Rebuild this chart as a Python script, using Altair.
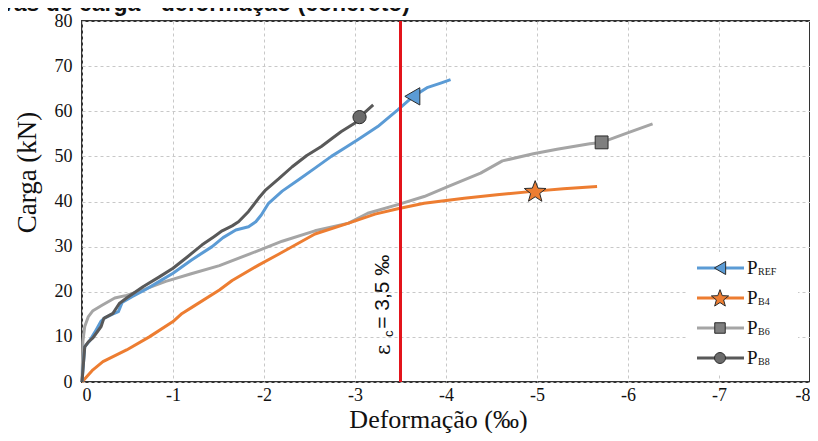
import math
import altair as alt
import pandas as pd

# ---------------- data ----------------
series_names = ["PREF", "PB4", "PB6", "PB8"]

pref_x = [0, -0.03, -0.08, -0.14, -0.21, -0.25, -0.33, -0.40, -0.44, -0.55, -0.70, -0.85, -1.00, -1.20,
          -1.43, -1.55, -1.69, -1.83, -1.91, -1.97, -2.05, -2.20, -2.38, -2.56, -2.74, -2.90, -3.03,
          -3.25, -3.47, -3.64, -3.80, -3.95, -4.05]
pref_y = [0, 7.8, 9.0, 11.0, 13.5, 14.2, 15.0, 15.6, 17.6, 18.9, 20.5, 22.3, 24.1, 27.0,
          30.0, 32.0, 33.7, 34.4, 35.5, 37.0, 39.6, 42.3, 44.8, 47.4, 50.0, 52.0, 53.7,
          56.6, 60.3, 63.3, 65.3, 66.3, 67.0]

pb4_x = [0, -0.12, -0.23, -0.49, -0.74, -1.00, -1.10, -1.22, -1.51, -1.65, -1.94, -2.16, -2.56,
         -2.93, -3.22, -3.47, -3.76, -4.20, -4.56, -4.98, -5.29, -5.66]
pb4_y = [0, 2.7, 4.5, 7.1, 10.0, 13.4, 15.2, 16.7, 20.4, 22.5, 25.9, 28.3, 32.8,
         35.2, 37.2, 38.4, 39.6, 40.7, 41.5, 42.3, 42.8, 43.3]

pb6_x = [0, -0.01, -0.03, -0.07, -0.12, -0.22, -0.36, -0.49, -0.67, -0.92, -1.20, -1.51, -1.91,
         -2.20, -2.56, -2.93, -3.14, -3.47, -3.76, -4.02, -4.38, -4.62, -4.96, -5.22, -5.58,
         -5.71, -5.98, -6.27]
pb6_y = [0, 9.0, 12.3, 14.5, 15.8, 17.0, 18.6, 19.2, 20.4, 22.3, 24.0, 25.8, 28.9,
         31.2, 33.5, 35.2, 37.4, 39.3, 41.1, 43.3, 46.3, 49.0, 50.6, 51.6, 52.8,
         53.1, 55.1, 57.2]

pb8_x = [0, -0.03, -0.07, -0.12, -0.21, -0.24, -0.34, -0.41, -0.49, -0.67, -0.85, -1.00, -1.15,
         -1.32, -1.45, -1.54, -1.65, -1.72, -1.83, -1.94, -2.02, -2.16, -2.31, -2.47, -2.63,
         -2.75, -2.85, -3.00, -3.05, -3.20]
pb8_y = [0, 7.8, 8.9, 9.8, 12.3, 14.1, 15.2, 17.4, 18.6, 21.1, 23.3, 25.2, 27.6,
         30.4, 32.2, 33.5, 34.6, 35.5, 37.8, 40.7, 42.6, 45.0, 47.7, 50.2, 52.2,
         54.0, 55.5, 57.4, 58.7, 61.4]

marker_x = [-3.63, -4.98, -5.71, -3.05]
marker_y = [63.3, 42.3, 53.1, 58.7]

x_ticks = [0, -1, -2, -3, -4, -5, -6, -7, -8]
y_ticks = [0, 10, 20, 30, 40, 50, 60, 70, 80]
eps_limit = -3.5

# ---------------- styles ----------------
line_colors = ["#5B9BD5", "#ED7D31", "#A5A5A5", "#595959"]
fill_colors = ["#5B9BD5", "#ED7D31", "#7F7F7F", "#6B6B6B"]


def star_path():
    pts = []
    for k in range(10):
        r = 1.0 if k % 2 == 0 else 0.42
        a = -math.pi / 2 + k * math.pi / 5
        pts.append(f"{r * math.cos(a):.3f},{r * math.sin(a) + 0.08:.3f}")
    return "M" + "L".join(pts) + "Z"


shapes = ["triangle-left", star_path(), "square", "circle"]
sizes_main = [300, 520, 165, 175]
sizes_leg = [170, 330, 110, 120]
SERIF = "Liberation Serif"

# ---------------- frames ----------------
rows = []
for name, xs, ys in zip(series_names, [pref_x, pb4_x, pb6_x, pb8_x], [pref_y, pb4_y, pb6_y, pb8_y]):
    for i, (xv, yv) in enumerate(zip(xs, ys)):
        rows.append({"serie": name, "i": i, "x": xv, "y": yv})
lines_df = pd.DataFrame(rows)

mk_df = pd.DataFrame({"serie": series_names, "x": marker_x, "y": marker_y, "sz": sizes_main})

color_scale = alt.Scale(domain=series_names, range=line_colors)
fill_scale = alt.Scale(domain=series_names, range=fill_colors)
shape_scale = alt.Scale(domain=series_names, range=shapes)

x_enc = alt.X("x:Q", scale=alt.Scale(domain=[0, -8], nice=False),
              axis=alt.Axis(values=x_ticks, title="Deformação (‰)",
                            labelExpr="'' + datum.value",
                            labelFont=SERIF, labelFontSize=18, labelPadding=4,
                            titleFont=SERIF, titleFontSize=26, titleFontWeight="normal",
                            titleX=356, titleY=45, titleAlign="center",
                            titleBaseline="alphabetic"))
y_enc = alt.Y("y:Q", scale=alt.Scale(domain=[0, 80], nice=False),
              axis=alt.Axis(values=y_ticks, title="Carga (kN)",
                            labelFont=SERIF, labelFontSize=18, labelPadding=10,
                            titleFont=SERIF, titleFontSize=27, titleFontWeight="normal",
                            titleX=-55, titleY=151, titleAlign="center", titleAngle=270,
                            titleBaseline="middle"))

base_lines = []
for name in ["PB6", "PB4", "PREF", "PB8"]:
    base_lines.append(
        alt.Chart(lines_df[lines_df.serie == name]).mark_line(strokeWidth=3, strokeJoin="round")
        .encode(x=x_enc, y=y_enc, order=alt.Order("i:Q"),
                color=alt.Color("serie:N", scale=color_scale, legend=None))
    )

red = alt.Chart(pd.DataFrame({"x": [eps_limit]})).mark_rule(color="#E3141B", strokeWidth=3).encode(x="x:Q")

markers = alt.Chart(mk_df).mark_point(filled=True, opacity=1, stroke="#2B2B2B", strokeWidth=1).encode(
    x="x:Q", y="y:Q",
    shape=alt.Shape("serie:N", scale=shape_scale, legend=None),
    fill=alt.Fill("serie:N", scale=fill_scale, legend=None),
    size=alt.Size("sz:Q", scale=None, legend=None),
)

# epsilon annotation (rotated)
eps_main = alt.Chart().mark_text(text="ε", angle=270, align="left", baseline="middle",
                                 font="DejaVu Serif", fontSize=20, color="#111").encode(
    x=alt.datum(-3.315), y=alt.datum(6.0))
eps_sub = alt.Chart().mark_text(text="c", angle=270, align="left", baseline="middle",
                                font="Liberation Sans", fontSize=13, color="#111").encode(
    x=alt.datum(-3.37), y=alt.datum(10.0))
eps_rest = alt.Chart().mark_text(text="= 3,5 ‰", angle=270, align="left", baseline="middle",
                                 font="Liberation Sans", fontSize=21, color="#111").encode(
    x=alt.datum(-3.31), y=alt.datum(11.8))

# manual legend
leg_df = pd.DataFrame({
    "serie": series_names,
    "main": ["P", "P", "P", "P"],
    "sub": ["REF", "B4", "B6", "B8"],
    "ly": [247, 277, 307, 337],
    "sz": sizes_leg,
})
leg_bg = alt.Chart().mark_rect(color="white").encode(
    x=alt.value(606), x2=alt.value(716), y=alt.value(231), y2=alt.value(353))
leg_line = alt.Chart(leg_df).mark_rule(strokeWidth=3).encode(
    x=alt.value(615), x2=alt.value(662), y=alt.Y("ly:Q", scale=None),
    color=alt.Color("serie:N", scale=color_scale, legend=None))
leg_mark = alt.Chart(leg_df).mark_point(filled=True, opacity=1, stroke="#2B2B2B", strokeWidth=1).encode(
    x=alt.value(638), y=alt.Y("ly:Q", scale=None),
    shape=alt.Shape("serie:N", scale=shape_scale, legend=None),
    fill=alt.Fill("serie:N", scale=fill_scale, legend=None),
    size=alt.Size("sz:Q", scale=None, legend=None))
leg_p = alt.Chart(leg_df).mark_text(align="left", baseline="alphabetic", font=SERIF, fontSize=19,
                                    color="#111", dy=6).encode(
    x=alt.value(665), y=alt.Y("ly:Q", scale=None), text="main:N")
leg_s = alt.Chart(leg_df).mark_text(align="left", baseline="alphabetic", font=SERIF, fontSize=10,
                                    color="#111", dy=7).encode(
    x=alt.value(676), y=alt.Y("ly:Q", scale=None), text="sub:N")

title_txt = alt.Chart().mark_text(text="Curvas de carga - deformação (concreto)", align="right",
                                  baseline="alphabetic", font="Liberation Sans", fontWeight="bold",
                                  fontSize=23, color="#111").encode(
    x=alt.value(328), y=alt.value(-10))

chart = alt.layer(
    *base_lines, red, markers, eps_main, eps_sub, eps_rest,
    leg_bg, leg_line, leg_mark, leg_p, leg_s, title_txt,
).properties(
    width=728, height=361,
    padding={"left": 74, "top": 13, "right": 0, "bottom": 51},
    autosize=alt.AutoSizeParams(type="none"),
).configure_view(
    stroke="#333333", strokeWidth=2
).configure_axis(
    domain=False, ticks=False, grid=True, gridColor="#C8C8C8", gridDash=[3, 3], gridWidth=1,
    labelColor="#111", titleColor="#111",
)

chart.save("out.html", embed_options={"renderer": "svg", "actions": False})
